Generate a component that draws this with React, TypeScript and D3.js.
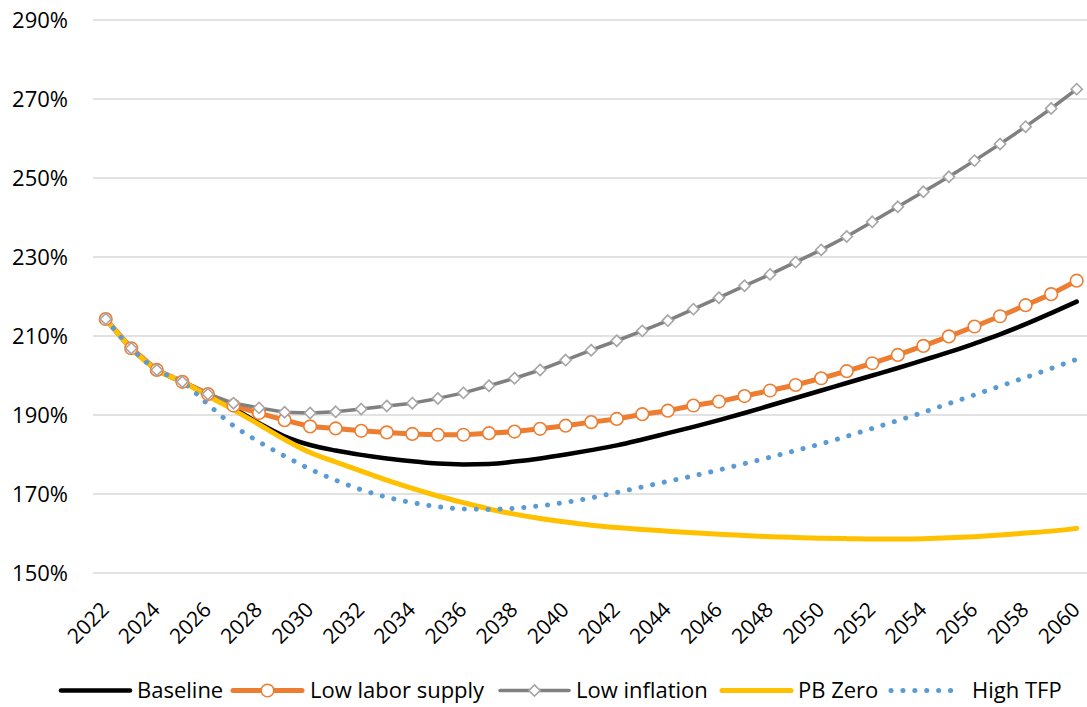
import React from "react";
import * as d3 from "d3";

// Projection years
const years: number[] = d3.range(2022, 2061);

// Debt-to-GDP ratio paths (%)
const baseline: number[] = [
  214.3, 206.9, 201.4, 198.4, 195.3, 191.7, 187.9, 184.6, 182.4, 181.0,
  179.9, 179.0, 178.3, 177.7, 177.5, 177.6, 178.2, 179.0, 180.0, 181.1,
  182.3, 183.8, 185.4, 187.0, 188.7, 190.5, 192.4, 194.3, 196.2, 198.1,
  200.0, 201.9, 203.9, 205.9, 208.1, 210.4, 213.0, 215.8, 218.7,
];
const lowLaborSupply: number[] = [
  214.3, 206.9, 201.4, 198.4, 195.3, 192.4, 190.5, 188.7, 187.1, 186.6,
  186.0, 185.6, 185.2, 185.0, 185.0, 185.4, 185.8, 186.5, 187.3, 188.2,
  189.0, 190.2, 191.1, 192.4, 193.4, 194.8, 196.2, 197.6, 199.3, 201.1,
  203.1, 205.2, 207.5, 209.9, 212.4, 215.0, 217.8, 220.6, 224.0,
];
const lowInflation: number[] = [
  214.3, 206.9, 201.4, 198.4, 195.3, 193.0, 191.8, 190.7, 190.5, 190.8,
  191.5, 192.3, 193.0, 194.2, 195.6, 197.4, 199.3, 201.4, 203.9, 206.4,
  208.8, 211.3, 213.9, 216.8, 219.7, 222.7, 225.6, 228.7, 231.8, 235.2,
  238.9, 242.7, 246.5, 250.3, 254.4, 258.6, 263.0, 267.6, 272.5,
];
const pbZero: number[] = [
  214.3, 206.9, 201.4, 198.4, 194.8, 191.3, 187.6, 183.8, 180.5, 178.1,
  175.8, 173.5, 171.4, 169.5, 167.8, 166.2, 164.9, 163.8, 162.9, 162.1,
  161.5, 161.0, 160.6, 160.2, 159.8, 159.5, 159.2, 159.0, 158.8, 158.7,
  158.6, 158.6, 158.7, 158.9, 159.2, 159.6, 160.1, 160.6, 161.3,
];
const highTFP: number[] = [
  214.3, 206.9, 201.4, 198.4, 192.7, 187.3, 183.2, 179.6, 176.3, 173.5,
  171.1, 169.2, 167.8, 166.8, 166.2, 166.1, 166.4, 167.0, 167.9, 169.0,
  170.4, 171.8, 173.2, 174.6, 176.1, 177.7, 179.3, 181.0, 182.7, 184.6,
  186.6, 188.6, 190.7, 192.9, 195.1, 197.3, 199.5, 201.8, 204.1,
];

const yTicks: number[] = [150, 170, 190, 210, 230, 250, 270, 290];
const xTickYears: number[] = years.filter((y) => (y - 2022) % 2 === 0);

const seriesNames: string[] = [
  "Baseline",
  "Low labor supply",
  "Low inflation",
  "PB Zero",
  "High TFP",
];

const W = 1087;
const H = 707;
const FONT = "'Open Sans', 'Noto Sans', sans-serif";

type Style = {
  color: string;
  width: number;
  dash?: string;
  marker?: "circle" | "diamond";
  markerStroke?: string;
};

const styles: Style[] = [
  { color: "#000000", width: 4.5 },
  { color: "#ED7D31", width: 5, marker: "circle", markerStroke: "#ED7D31" },
  { color: "#808080", width: 3.5, marker: "diamond", markerStroke: "#A5A5A5" },
  { color: "#FFC000", width: 5 },
  { color: "#5B9BD5", width: 5, dash: "0.1 11.8" },
];

const seriesValues: number[][] = [
  baseline,
  lowLaborSupply,
  lowInflation,
  pbZero,
  highTFP,
];

function Marker({ kind, x, y, stroke }: { kind: string; x: number; y: number; stroke: string }) {
  if (kind === "circle") {
    return <circle cx={x} cy={y} r={6.3} fill="#fff" stroke={stroke} strokeWidth={1.6} />;
  }
  const s = 5.6;
  return (
    <path
      d={`M${x},${y - s}L${x + s},${y}L${x},${y + s}L${x - s},${y}Z`}
      fill="#fff"
      stroke={stroke}
      strokeWidth={1.6}
    />
  );
}

export default function App() {
  const x = d3.scalePoint<number>().domain(years).range([105.7, 1076.7]);
  const y = d3.scaleLinear().domain([150, 290]).range([573, 20]);

  const line = d3
    .line<number>()
    .x((_, i) => x(years[i]) as number)
    .y((d) => y(d))
    .curve(d3.curveMonotoneX);

  const straight = d3
    .line<number>()
    .x((_, i) => x(years[i]) as number)
    .y((d) => y(d));

  // legend layout: [sample start, text start]
  const legendPos: [number, number][] = [
    [61, 137],
    [233, 310],
    [500, 576],
    [722, 798],
    [891, 972],
  ];
  const legendY = 690.5;

  return (
    <svg
      width={W}
      height={H}
      style={{ position: "absolute", left: 0, top: 0, background: "#fff" }}
      fontFamily={FONT}
    >
      <rect width={W} height={H} fill="#fff" />
      {/* horizontal gridlines */}
      {yTicks.map((t) => (
        <line
          key={t}
          x1={93}
          x2={1087}
          y1={y(t)}
          y2={y(t)}
          stroke="#D9D9D9"
          strokeWidth={1.5}
        />
      ))}
      {/* y-axis labels */}
      {yTicks.map((t) => (
        <text
          key={t}
          x={68}
          y={y(t)}
          dy="0.35em"
          textAnchor="end"
          fontSize={22}
          fill="#000"
        >
          {`${t}%`}
        </text>
      ))}
      {/* x-axis labels, rotated */}
      {xTickYears.map((yr) => (
        <text
          key={yr}
          transform={`translate(${(x(yr) as number) + 4.5},${611}) rotate(-45)`}
          textAnchor="end"
          fontSize={21}
          fill="#000"
        >
          {yr}
        </text>
      ))}
      {/* series lines */}
      {seriesValues.map((vals, si) => {
        const st = styles[si];
        const gen = st.marker ? straight : line;
        return (
          <path
            key={seriesNames[si]}
            d={gen(vals) || ""}
            fill="none"
            stroke={st.color}
            strokeWidth={st.width}
            strokeDasharray={st.dash}
            strokeLinecap="round"
            strokeLinejoin="round"
          />
        );
      })}
      {/* markers drawn with their series order */}
      {seriesValues.map((vals, si) => {
        const st = styles[si];
        if (!st.marker) return null;
        return (
          <g key={`m-${si}`}>
            {vals.map((v, i) => (
              <Marker
                key={i}
                kind={st.marker as string}
                x={x(years[i]) as number}
                y={y(v)}
                stroke={st.markerStroke as string}
              />
            ))}
          </g>
        );
      })}
      {/* legend */}
      {seriesNames.map((name, si) => {
        const st = styles[si];
        const [sx, tx] = legendPos[si];
        const ex = sx + 69;
        return (
          <g key={`lg-${si}`}>
            <line
              x1={sx}
              x2={ex}
              y1={legendY}
              y2={legendY}
              stroke={st.color}
              strokeWidth={st.width}
              strokeDasharray={st.dash}
              strokeLinecap="round"
            />
            {st.marker && (
              <Marker
                kind={st.marker}
                x={(sx + ex) / 2}
                y={legendY}
                stroke={st.markerStroke as string}
              />
            )}
            <text x={tx} y={legendY} dy="0.35em" fontSize={22} fill="#000">
              {name}
            </text>
          </g>
        );
      })}
    </svg>
  );
}
